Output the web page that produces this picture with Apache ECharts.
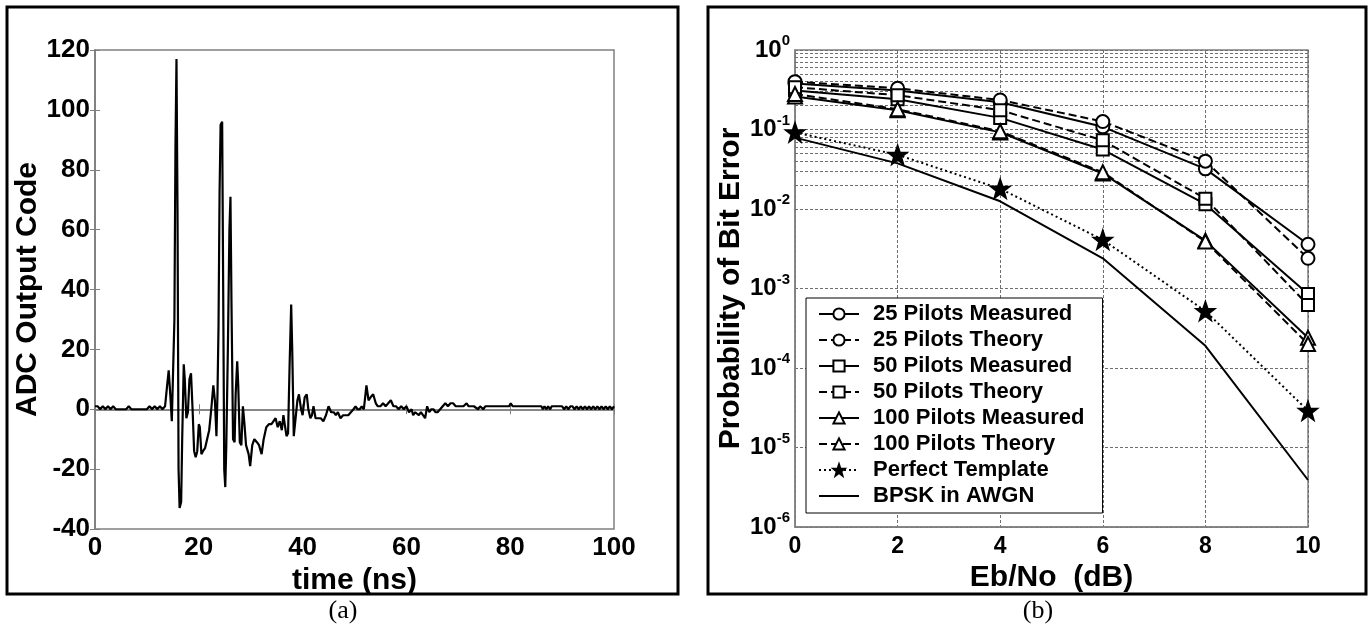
<!DOCTYPE html>
<html>
<head>
<meta charset="utf-8">
<script src="https://cdn.jsdelivr.net/npm/echarts@6/dist/echarts.min.js"></script>
<style>
html,body{margin:0;padding:0;background:#fff;}
#chart{width:1372px;height:630px;}
</style>
</head>
<body>
<div id="chart"></div>
<script>
// ---------- Panel (a): ADC waveform ----------
const timeNs = [
0,0.5,1,1.5,2,2.5,3,3.5,4,4.5,5,6,6.5,7,8,9,10,10.5,11,11.5,12,12.5,13,13.5,
13.9,14.2,14.5,14.8,15.1,15.3,15.5,15.7,15.9,16.1,16.3,16.6,16.8,17.1,17.3,17.6,17.9,
18.2,18.5,18.8,19.1,19.4,19.7,20.0,20.2,20.5,20.8,21.2,21.6,22.0,22.4,22.8,23.1,23.4,
23.6,23.8,24.0,24.2,24.5,24.7,24.9,25.1,25.3,25.6,25.9,26.1,26.3,26.6,26.9,27.1,27.4,
27.6,27.9,28.2,28.5,28.8,29.1,29.6,29.9,30.3,30.7,31.2,31.6,32.1,32.5,33.0,33.5,34.0,
34.4,34.8,35.2,35.6,36.0,36.3,36.6,36.9,37.2,37.5,37.8,38.0,38.3,38.6,39.0,39.3,39.7,
40.0,40.4,40.8,41.1,41.5,41.8,42.1,42.5,43.0,43.5,44.0,44.5,45.0,45.5,46.0,46.4,46.8,
47.3,47.8,48.3,48.8,49.3,49.8,50.2,50.6,51.0,51.4,51.8,52.3,52.7,53.1,53.6,54.1,54.5,
55.0,55.5,56.0,56.5,57.0,57.5,58.0,58.5,59.0,59.5,60.0,60.5,61.0,61.3,61.7,62.0,62.4,
62.8,63.2,63.6,64.0,64.4,64.8,65.2,65.6,66.0,66.5,67.0,67.5,68.0,68.5,69.0,69.5,70,71,
71.6,72,73,73.8,74.2,74.8,75.2,76,78,79.8,80.1,80.5,82,84,86,86.3,86.6,87,87.3,87.7,
88.0,88.5,89,90,90.4,90.8,91.2,91.6,92,92.4,92.8,93.2,93.6,94,94.4,94.8,95.2,95.6,96,
96.4,96.8,97.2,97.6,98,98.4,98.8,99.2,99.6,100
];
const adcCode = [
1,1,0,1,0,1,0,1,0,0,0,0,1,0,0,0,0,1,0,1,0,1,0,1,
8,13,5,-4,-4,30,87,117,66,-20,-33,-31,-10,15,10,-3,-1,
10,12,0,-14,-16,-14,-5,-6,-15,-14,-13,-10,-7,0,8,3,-9,
5,28,72,95,96,40,-20,-26,-12,20,60,71,35,-10,-11,5,16,
8,-11,-12,1,-5,-12,-15,-19,-12,-10,-11,-12,-15,-10,-6,-5,-5,
-4,-3,-6,-4,-7,-2,-2,-9,-8,15,35,20,-9,-9,3,5,0,
-2,4,5,0,-3,-2,1,-3,-3,-3,-4,-2,1,-1,-1,-2,-1,
-3,-2,-2,-2,-1,0,1,0,0,1,0,8,3,4,5,2,1,
1,2,1,2,3,1,1,0,1,0,1,-1,0,-2,-1,-1,-2,
-1,-2,-3,1,-1,0,0,-1,-1,0,1,2,1,2,2,1,1,1,
2,1,1,0,1,0,1,1,1,1,2,1,1,1,1,0,1,0,1,0,
1,1,1,1,0,1,0,1,1,0,1,0,1,0,1,0,1,0,1,
0,1,0,1,0,1,0,1,0,1
];
const timeTicks = {min: 0, max: 100, interval: 20};
const adcTicks = {min: -40, max: 120, interval: 20};

// ---------- Panel (b): BER curves ----------
const ebNo = [0, 2, 4, 6, 8, 10];
const p25Measured  = [0.38, 0.31, 0.22, 0.108, 0.032, 0.0036];
const p25Theory    = [0.40, 0.33, 0.235, 0.126, 0.040, 0.0024];
const p50Measured  = [0.31, 0.24, 0.14, 0.056, 0.0115, 0.00085];
const p50Theory    = [0.34, 0.27, 0.175, 0.073, 0.0135, 0.00062];
const p100Measured = [0.26, 0.175, 0.092, 0.028, 0.0040, 0.00024];
const p100Theory   = [0.28, 0.18, 0.095, 0.029, 0.0039, 0.00020];
const perfectTemplate = [0.092, 0.048, 0.018, 0.0041, 0.00052, 0.000029];
const bpskAwgn     = [0.079, 0.0375, 0.0125, 0.0024, 0.00019, 0.0000039];
const seriesNames = ['25 Pilots Measured','25 Pilots Theory','50 Pilots Measured','50 Pilots Theory',
  '100 Pilots Measured','100 Pilots Theory','Perfect Template','BPSK in AWGN'];
const berMin = 1e-6, berMax = 1;

// ---------- build ----------
const FONT = '"Liberation Sans", Arial, sans-serif';
const zip = (xs, ys) => xs.map((x, i) => [x, ys[i]]);
const STAR = 'path://M0,-10 L2.35,-3.24 9.51,-3.09 3.8,1.24 5.88,8.09 0,4 -5.88,8.09 -3.8,1.24 -9.51,-3.09 -2.35,-3.24 Z';
const DASH = [8, 4], DOT = [2, 3];

// minor log grid positions (2..9 x 10^k)
const minorGrid = [];
for (let e = -6; e < 0; e++) for (let m = 2; m <= 9; m++) minorGrid.push({yAxis: m * Math.pow(10, e)});

const gridStyle = {color: '#6f6f6f', width: 1, type: [3, 2]};
const tickLabelA = {color: '#000', fontFamily: FONT, fontWeight: 'bold', fontSize: 26};
const tickLabelB = {color: '#000', fontFamily: FONT, fontWeight: 'bold', fontSize: 23};
const nameStyle = {color: '#000', fontFamily: FONT, fontWeight: 'bold', fontSize: 30};
const axisGray = {lineStyle: {color: '#808080', width: 1.5}};

function berSeries(name, vals, dash, symbol, size) {
  return {
    name, type: 'line', xAxisIndex: 2, yAxisIndex: 2, data: zip(ebNo, vals),
    symbol: symbol || 'none', symbolSize: size || 13, showSymbol: !!symbol,
    lineStyle: {color: '#000', width: 2, type: dash},
    itemStyle: {color: '#000', borderColor: '#000', borderWidth: 2},
    z: 5, animation: false
  };
}

const legendData = seriesNames.map((n, i) => i === 7 ? {name: n, itemStyle: {opacity: 0}} : {name: n});

const option = {
  animation: false,
  backgroundColor: '#fff',
  grid: [
    {left: 95, right: 758, top: 50, bottom: 101, show: true, borderColor: '#808080', borderWidth: 1.5, backgroundColor: 'transparent'},
    {left: 795, right: 64, top: 50, bottom: 103, show: true, borderColor: '#808080', borderWidth: 1.5, backgroundColor: 'transparent'}
  ],
  xAxis: [
    {gridIndex: 0, type: 'value', min: timeTicks.min, max: timeTicks.max, interval: timeTicks.interval,
     axisLine: axisGray, axisTick: {inside: true, length: 5, lineStyle: {color: '#808080'}},
     axisLabel: Object.assign({margin: 6}, tickLabelA), splitLine: {show: false},
     name: 'time (ns)', nameLocation: 'middle', nameGap: 21, nameTextStyle: nameStyle},
    {gridIndex: 0, type: 'value', position: 'top', min: timeTicks.min, max: timeTicks.max, interval: timeTicks.interval,
     axisLine: axisGray, axisTick: {inside: true, length: 5, lineStyle: {color: '#808080'}},
     axisLabel: {show: false}, splitLine: {show: false}},
    {gridIndex: 1, type: 'value', min: 0, max: 10, interval: 2,
     axisLine: axisGray, axisTick: {show: false},
     axisLabel: Object.assign({margin: 8}, tickLabelB), splitLine: {show: true, lineStyle: gridStyle},
     name: 'Eb/No  (dB)', nameLocation: 'middle', nameGap: 19, nameTextStyle: nameStyle}
  ],
  yAxis: [
    {gridIndex: 0, type: 'value', min: adcTicks.min, max: adcTicks.max, interval: adcTicks.interval,
     axisLine: axisGray, axisTick: {inside: true, length: 5, lineStyle: {color: '#808080'}},
     axisLabel: Object.assign({margin: 5}, tickLabelA), splitLine: {show: false},
     name: 'ADC Output Code', nameLocation: 'middle', nameGap: 41, nameTextStyle: nameStyle},
    {gridIndex: 0, type: 'value', position: 'right', min: adcTicks.min, max: adcTicks.max, interval: adcTicks.interval,
     axisLine: axisGray, axisTick: {inside: true, length: 5, lineStyle: {color: '#808080'}},
     axisLabel: {show: false}, splitLine: {show: false}},
    {gridIndex: 1, type: 'log', logBase: 10, min: berMin, max: berMax,
     axisLine: axisGray, axisTick: {show: false},
     axisLabel: {margin: 5, formatter: v => '{b|10}{s|' + Math.round(Math.log10(v)) + '}',
       rich: {b: {color: '#000', fontFamily: FONT, fontWeight: 'bold', fontSize: 24},
              s: {color: '#000', fontFamily: FONT, fontWeight: 'bold', fontSize: 15, padding: [0, 0, 18, 0]}}},
     splitLine: {show: true, lineStyle: gridStyle},
     name: 'Probability of Bit Error', nameLocation: 'middle', nameGap: 48, nameTextStyle: nameStyle}
  ],
  legend: {
    data: legendData, orient: 'vertical', left: 806, top: 298,
    backgroundColor: '#fff', borderColor: '#000', borderWidth: 1,
    padding: [5, 18, 6, 12], itemGap: 4, itemWidth: 40, itemHeight: 14,
    textStyle: {color: '#000', fontFamily: FONT, fontWeight: 'bold', fontSize: 22, lineHeight: 22, padding: [0, 0, 0, 9]}
  },
  series: [
    {name: 'adc', type: 'line', xAxisIndex: 0, yAxisIndex: 0, data: zip(timeNs, adcCode),
     symbol: 'none', lineStyle: {color: '#000', width: 2.2}, z: 3},
    {name: '_grid', type: 'line', xAxisIndex: 2, yAxisIndex: 2, data: [], z: 1, silent: true,
     markLine: {silent: true, symbol: 'none', label: {show: false}, lineStyle: gridStyle, data: minorGrid, animation: false}},
    berSeries(seriesNames[0], p25Measured, 'solid', 'emptyCircle', 13),
    berSeries(seriesNames[1], p25Theory, DASH, 'emptyCircle', 13),
    berSeries(seriesNames[2], p50Measured, 'solid', 'emptyRect', 12),
    berSeries(seriesNames[3], p50Theory, DASH, 'emptyRect', 12),
    berSeries(seriesNames[4], p100Measured, 'solid', 'emptyTriangle', 14),
    berSeries(seriesNames[5], p100Theory, DASH, 'emptyTriangle', 14),
    berSeries(seriesNames[6], perfectTemplate, DOT, STAR, 18),
    berSeries(seriesNames[7], bpskAwgn, 'solid', null)
  ],
  graphic: [
    {type: 'rect', silent: true, z: 100, shape: {x: 7, y: 7, width: 671, height: 587}, style: {fill: 'none', stroke: '#000', lineWidth: 3}},
    {type: 'rect', silent: true, z: 100, shape: {x: 708, y: 7, width: 658, height: 587}, style: {fill: 'none', stroke: '#000', lineWidth: 3}},
    {type: 'text', silent: true, z: 100, style: {text: '(a)', x: 343, y: 611, font: '26px "Liberation Serif"', align: 'center', verticalAlign: 'middle', fill: '#000'}},
    {type: 'text', silent: true, z: 100, style: {text: '(b)', x: 1038, y: 611, font: '26px "Liberation Serif"', align: 'center', verticalAlign: 'middle', fill: '#000'}}
  ]
};

const chart = echarts.init(document.getElementById('chart'), null, {renderer: 'canvas'});
chart.setOption(option);
</script>
</body>
</html>
